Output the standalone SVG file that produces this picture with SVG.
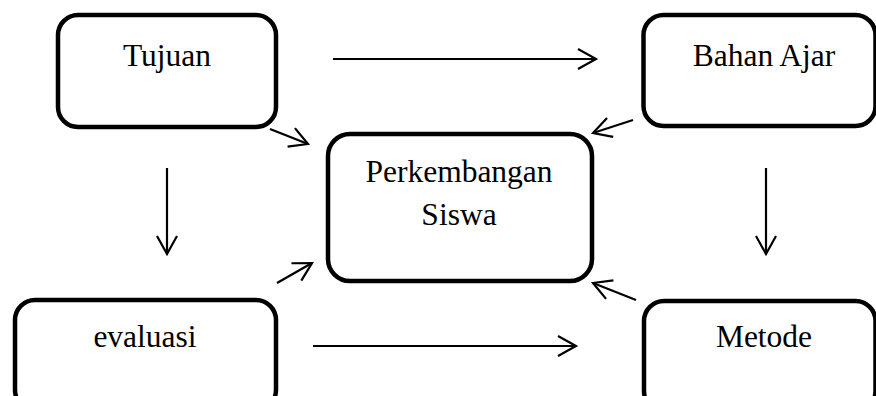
<svg xmlns="http://www.w3.org/2000/svg" width="876" height="396" viewBox="0 0 876 396">
<style>
.box{fill:#fff;stroke:#000;stroke-width:4.5}
.lbl{font-family:"Liberation Serif","Times New Roman",serif;font-size:31.5px;fill:#000;text-anchor:middle}
.ln{stroke:#000;stroke-width:2.2;fill:none;marker-end:url(#ah)}
</style>
<defs>
<marker id="ah" markerUnits="userSpaceOnUse" markerWidth="24" markerHeight="24" viewBox="-20 -12 24 24" refX="0" refY="0" orient="auto">
<path d="M-18,-10 L0,0 L-18,10" fill="none" stroke="#000" stroke-width="2.2"/>
</marker>
</defs>
<rect width="876" height="396" fill="#fff"/>
<g id="connectors">
<line class="ln" x1="333" y1="59" x2="596" y2="59"/>
<line class="ln" x1="313" y1="346" x2="576" y2="346"/>
<line class="ln" x1="167" y1="168" x2="167" y2="254"/>
<line class="ln" x1="766" y1="168" x2="766" y2="254"/>
<line class="ln" x1="270" y1="129" x2="308" y2="144"/>
<line class="ln" x1="277" y1="283" x2="312" y2="263"/>
<line class="ln" x1="633" y1="120" x2="593" y2="133"/>
<line class="ln" x1="636" y1="300" x2="593" y2="283"/>
</g>
<g id="tujuan">
<rect class="box" x="58" y="15" width="218" height="112" rx="20"/>
<text class="lbl" x="167" y="66">Tujuan</text>
</g>
<g id="bahan-ajar">
<rect class="box" x="643.5" y="15" width="232" height="111" rx="20"/>
<text class="lbl" x="764" y="66">Bahan Ajar</text>
</g>
<g id="perkembangan-siswa">
<rect class="box" x="328" y="134" width="264" height="147" rx="22"/>
<text class="lbl" x="459" y="182">Perkembangan</text>
<text class="lbl" x="459" y="225">Siswa</text>
</g>
<g id="evaluasi">
<rect class="box" x="15" y="300" width="261" height="110" rx="20"/>
<text class="lbl" x="145" y="347">evaluasi</text>
</g>
<g id="metode">
<rect class="box" x="644" y="301" width="231.5" height="110" rx="20"/>
<text class="lbl" x="764" y="347">Metode</text>
</g>
</svg>
